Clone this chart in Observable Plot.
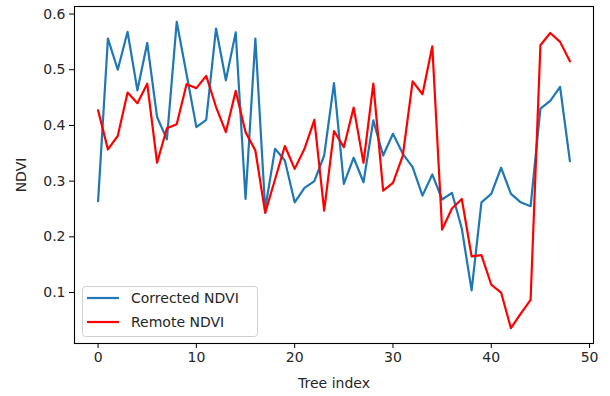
<!DOCTYPE html>
<html>
<head>
<meta charset="utf-8">
<script src="https://cdn.jsdelivr.net/npm/d3@7"></script>
<script src="https://cdn.jsdelivr.net/npm/@observablehq/plot@0.6"></script>
<style>
  html, body { margin: 0; padding: 0; background: #fff; }
  #chart { width: 610px; height: 396px; }
</style>
</head>
<body>
<div id="chart"></div>
<script>
// NDVI per tree: corrected ground values vs. remote-sensed values
const correctedNdvi = [
  0.264, 0.556, 0.500, 0.568, 0.463, 0.548, 0.415, 0.375, 0.586, 0.492,
  0.397, 0.410, 0.574, 0.481, 0.567, 0.268, 0.556, 0.250, 0.358, 0.337,
  0.262, 0.288, 0.300, 0.346, 0.476, 0.295, 0.342, 0.298, 0.409, 0.346,
  0.385, 0.349, 0.325, 0.274, 0.312, 0.267, 0.279, 0.215, 0.104, 0.262,
  0.277, 0.324, 0.277, 0.262, 0.255, 0.430, 0.444, 0.469, 0.336
];
const remoteNdvi = [
  0.427, 0.357, 0.381, 0.459, 0.440, 0.475, 0.333, 0.395, 0.402, 0.474,
  0.467, 0.489, 0.433, 0.388, 0.462, 0.388, 0.355, 0.243, 0.303, 0.363,
  0.322, 0.358, 0.410, 0.247, 0.390, 0.361, 0.432, 0.333, 0.475, 0.283,
  0.297, 0.346, 0.479, 0.456, 0.542, 0.213, 0.251, 0.268, 0.165, 0.167,
  0.114, 0.100, 0.036, 0.062, 0.087, 0.544, 0.566, 0.550, 0.515
];
const seriesNames = ["Corrected NDVI", "Remote NDVI"];
const seriesColors = ["#1f77b4", "#ff0000"];
const xTicks = [0, 10, 20, 30, 40, 50];
const yTicks = [0.1, 0.2, 0.3, 0.4, 0.5, 0.6];

const corrected = correctedNdvi.map((v, i) => ({tree: i, ndvi: v}));
const remote = remoteNdvi.map((v, i) => ({tree: i, ndvi: v}));

// matplotlib-style 5% padding around the data extent
function padded(values) {
  const [lo, hi] = d3.extent(values);
  const m = (hi - lo) * 0.05;
  return [lo - m, hi + m];
}
const xDomain = padded(corrected.map(d => d.tree));
const yDomain = padded(correctedNdvi.concat(remoteNdvi));

const textColor = "#262626";

const chart = Plot.plot({
  width: 610,
  height: 396,
  marginLeft: 74,
  marginRight: 17,
  marginTop: 6,
  marginBottom: 53,
  style: {fontFamily: "DejaVu Sans, sans-serif", fontSize: "14px", color: textColor, background: "#fff"},
  x: {domain: xDomain},
  y: {domain: yDomain},
  marks: [
    Plot.axisX({ticks: xTicks, tickSize: 5, tickPadding: 4, label: "Tree index",
      labelAnchor: "center", labelArrow: "none", labelOffset: 44, stroke: "#000"}),
    Plot.axisY({ticks: yTicks, tickSize: 5, tickPadding: 4, tickFormat: d3.format(".1f"),
      label: "NDVI", labelAnchor: "center", labelArrow: "none", labelOffset: 58, stroke: "#000"}),
    Plot.line(corrected, {x: "tree", y: "ndvi", stroke: seriesColors[0], strokeWidth: 2.2}),
    Plot.line(remote, {x: "tree", y: "ndvi", stroke: seriesColors[1], strokeWidth: 2.2}),
    Plot.frame({stroke: "#000", strokeWidth: 1.1})
  ]
});
document.getElementById("chart").appendChild(chart);

// legend box in the lower-left corner of the axes
const svg = d3.select(chart);
const lg = svg.append("g").attr("transform", "translate(82,286)");
lg.append("rect")
  .attr("x", 0.5).attr("y", 0.5).attr("width", 175).attr("height", 50).attr("rx", 3)
  .attr("fill", "#fff").attr("fill-opacity", 0.8)
  .attr("stroke", "#d0d0d0").attr("stroke-width", 1);
seriesNames.forEach((name, i) => {
  const y = 12 + i * 24;
  lg.append("line")
    .attr("x1", 5).attr("x2", 37).attr("y1", y).attr("y2", y)
    .attr("stroke", seriesColors[i]).attr("stroke-width", 2.2);
  lg.append("text")
    .attr("x", 49).attr("y", y).attr("dy", "0.35em")
    .attr("text-anchor", "start")
    .attr("fill", textColor).attr("font-size", 14)
    .text(name);
});
</script>
</body>
</html>
